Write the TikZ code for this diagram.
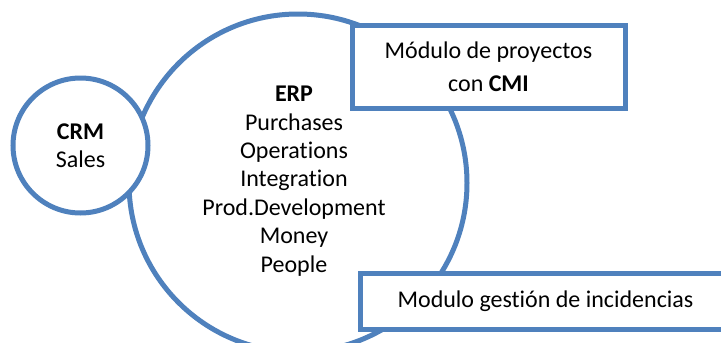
\documentclass[tikz,border=0pt]{standalone}
\usepackage{fontspec}
\setmainfont{Carlito}[Ligatures={NoCommon}]
\definecolor{accblue}{HTML}{4F81BD}
\begin{document}
\begin{tikzpicture}[x=1pt,y=-1pt,
  ring/.style={circle, draw=accblue, line width=5pt, fill=white, inner sep=0pt, outer sep=0pt, align=center},
  modbox/.style={rectangle, draw=accblue, line width=5pt, fill=white, inner sep=0pt, outer sep=0pt, align=center},
  txt/.style={font=\fontsize{24}{28.4}\selectfont}]
\useasboundingbox (0,0) rectangle (721,343);
\clip (0,0) rectangle (721,343);
\fill[white] (0,0) rectangle (721,343);
\node[ring, minimum size=338pt, txt] (erp) at (298,183) {};
\node[txt, align=center] (erptxt) at (294,181) {\textbf{ERP}\\Purchases\\Operations\\Integration\\Prod.Development\\Money\\People};
\node[ring, minimum size=135pt, txt] (crm) at (80.5,145.5) {\textbf{CRM}\\Sales};
\node[modbox, minimum width=273pt, minimum height=83pt, font=\fontsize{24}{33}\selectfont] (proy) at (488.5,66.5) {Módulo de proyectos\\con \textbf{CMI}};
\node[modbox, minimum width=371pt, minimum height=56pt, txt] (inc) at (545.5,301) {Modulo gestión de incidencias};
\end{tikzpicture}
\end{document}
